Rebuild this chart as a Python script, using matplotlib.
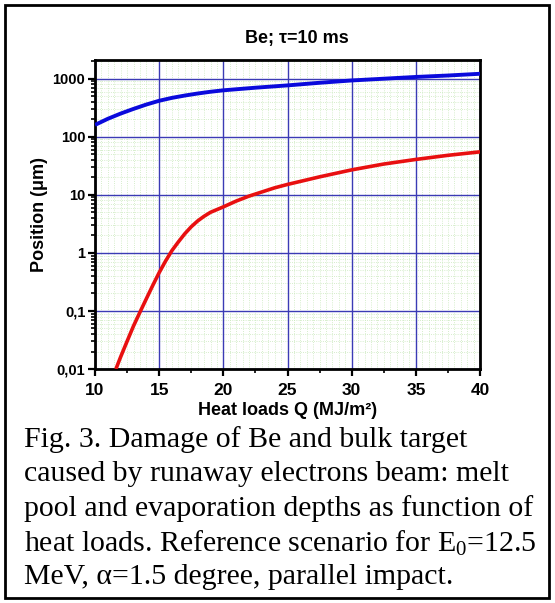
import matplotlib
matplotlib.use("Agg")
import matplotlib.pyplot as plt
import matplotlib.patches as patches
from matplotlib.ticker import FixedLocator, NullFormatter, LogLocator
import numpy as np

# values
q_melt = [10, 11, 12, 13, 14, 15, 16, 17, 18, 19, 20, 22.5, 25, 27.5, 30, 32.5, 35, 37.5, 40]
melt_depth = [160, 204, 251, 302, 359, 417, 468, 513, 556, 596, 631, 700, 767, 851, 933, 1000, 1072, 1135, 1216]

q_evap = [11.63, 12, 12.5, 13, 13.5, 14, 14.5, 15, 15.5, 16, 16.5, 17, 17.5, 18, 18.5, 19,
          20, 21, 22, 23, 24, 25, 27.5, 30, 32.5, 35, 37.5, 40]
evap_depth = [0.01, 0.0162, 0.030, 0.055, 0.095, 0.162, 0.275, 0.457, 0.724, 1.10, 1.55, 2.14,
              2.82, 3.55, 4.27, 5.0, 6.2, 7.8, 9.5, 11.2, 13.2, 15.1, 20.4, 26.9, 33.9, 40.7, 47.9, 55.0]

x_ticks = [10, 15, 20, 25, 30, 35, 40]
y_ticks = [0.01, 0.1, 1, 10, 100, 1000]
y_tick_labels = ["0,01", "0,1", "1", "10", "100", "1000"]

caption = [
    "Fig. 3. Damage of Be and bulk target",
    "caused by runaway electrons beam: melt",
    "pool and evaporation depths as function of",
    "heat loads. Reference scenario for E$_0$=12.5",
    "MeV, \u03b1=1.5 degree, parallel impact.",
]

plt.rcParams['font.family'] = ['Liberation Sans', 'DejaVu Sans']
plt.rcParams['mathtext.fontset'] = 'custom'
plt.rcParams['mathtext.rm'] = 'Liberation Serif'
plt.rcParams['mathtext.it'] = 'Liberation Serif:italic'
plt.rcParams['mathtext.default'] = 'regular'

W, H = 555, 603
fig = plt.figure(figsize=(W / 100, H / 100), dpi=100)
ax = fig.add_axes([95 / W, 1 - 369 / H, 385 / W, 309 / H])

ax.set_yscale('log')
ax.set_xlim(10, 40)
ax.set_ylim(0.01, 2100)

# fine green dotted mesh
for xv in np.arange(10.5, 40, 0.5):
    if xv % 5 != 0:
        ax.axvline(xv, color='#c8e8ba', lw=0.6, ls=':', zorder=0)
for dec in [0.01, 0.1, 1, 10, 100, 1000]:
    for m in range(2, 10):
        if dec * m < 2100:
            ax.axhline(dec * m, color='#c8e8ba', lw=0.6, ls=':', zorder=0)

ax.grid(True, which='major', color='#3b3bb5', lw=1.0, zorder=1)

ax.plot(q_melt, melt_depth, color='#0a0adc', lw=2.8, zorder=3, solid_capstyle='butt')
ax.plot(q_evap, evap_depth, color='#e81010', lw=2.6, zorder=3, solid_capstyle='butt')

ax.xaxis.set_major_locator(FixedLocator(x_ticks))
ax.xaxis.set_minor_locator(FixedLocator([12.5, 17.5, 22.5, 27.5, 32.5, 37.5]))
ax.yaxis.set_major_locator(FixedLocator(y_ticks))
ax.set_yticklabels(y_tick_labels)
ax.yaxis.set_minor_locator(LogLocator(base=10, subs=np.arange(2, 10), numticks=20))
ax.yaxis.set_minor_formatter(NullFormatter())

ax.tick_params(which='major', direction='out', length=5, width=1.6, labelsize=10.5, pad=2)
ax.tick_params(axis='x', which='major', labelsize=12.5, pad=5)
ax.tick_params(which='minor', direction='out', length=3, width=1.2)
for lab in ax.get_xticklabels() + ax.get_yticklabels():
    lab.set_fontweight('bold')

for sp in ax.spines.values():
    sp.set_linewidth(2)

fig.text(297 / W, 1 - 38 / H, "Be; \u03c4=10 ms", fontsize=13, fontweight='bold',
         ha='center', va='center')
ax.set_xlabel("Heat loads Q (MJ/m\u00b2)", fontsize=13, fontweight='bold', labelpad=3)
ax.set_ylabel("Position (\u03bcm)", fontsize=13, fontweight='bold', labelpad=3)

for i, line in enumerate(caption):
    fig.text(24 / W, 1 - (440 + 34.3 * i) / H, line, fontsize=21.5,
             family='Liberation Serif', va='center', ha='left')

frame = patches.Rectangle((5 / W, 5 / H), 544 / W, 593 / H, transform=fig.transFigure,
                          fill=False, edgecolor='black', lw=2)
fig.patches.append(frame)

fig.savefig("out.png", dpi=100)
